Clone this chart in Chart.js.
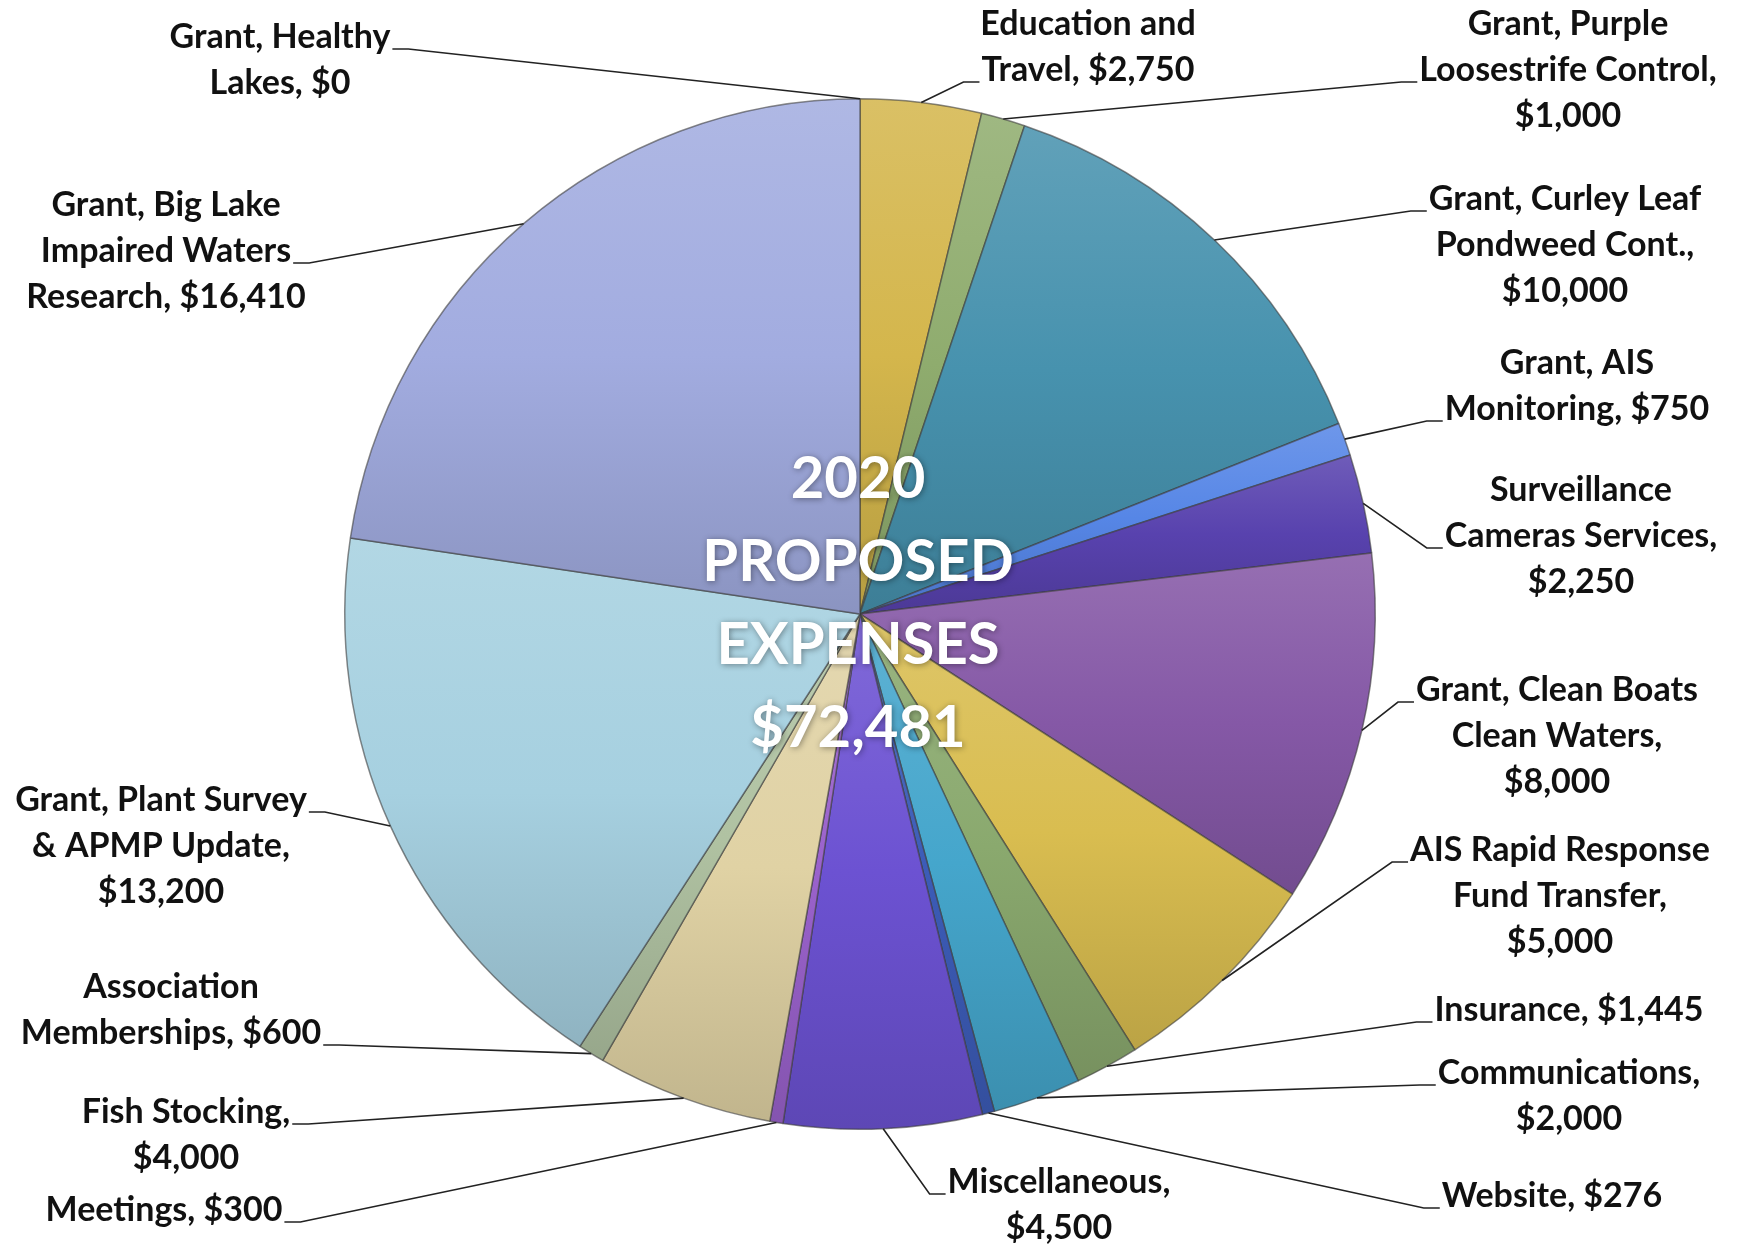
<!DOCTYPE html>
<html>
<head>
<meta charset="utf-8">
<script src="https://cdn.jsdelivr.net/npm/chart.js@4.4.1/dist/chart.umd.min.js"></script>
<style>
  html, body { margin: 0; background: #fff; }
  canvas { display: block; }
</style>
</head>
<body>
<canvas id="chart" width="1740" height="1244"></canvas>
<script>
// data, clockwise from 12 o'clock
var categories = [
  'Grant, Healthy Lakes', 'Education and Travel', 'Grant, Purple Loosestrife Control',
  'Grant, Curley Leaf Pondweed Cont.', 'Grant, AIS Monitoring', 'Surveillance Cameras Services',
  'Grant, Clean Boats Clean Waters', 'AIS Rapid Response Fund Transfer', 'Insurance',
  'Communications', 'Website', 'Miscellaneous', 'Meetings', 'Fish Stocking',
  'Association Memberships', 'Grant, Plant Survey & APMP Update', 'Grant, Big Lake Impaired Waters Research'
];
var amounts = [0, 2750, 1000, 10000, 750, 2250, 8000, 5000, 1445, 2000, 276, 4500, 300, 4000, 600, 13200, 16410];
var labelLines = [
  ['Grant, Healthy', 'Lakes, $0'],
  ['Education and', 'Travel, $2,750'],
  ['Grant, Purple', 'Loosestrife Control,', '$1,000'],
  ['Grant, Curley Leaf', 'Pondweed Cont.,', '$10,000'],
  ['Grant, AIS', 'Monitoring, $750'],
  ['Surveillance', 'Cameras Services,', '$2,250'],
  ['Grant, Clean Boats', 'Clean Waters,', '$8,000'],
  ['AIS Rapid Response', 'Fund Transfer,', '$5,000'],
  ['Insurance, $1,445'],
  ['Communications,', '$2,000'],
  ['Website, $276'],
  ['Miscellaneous,', '$4,500'],
  ['Meetings, $300'],
  ['Fish Stocking,', '$4,000'],
  ['Association', 'Memberships, $600'],
  ['Grant, Plant Survey', '& APMP Update,', '$13,200'],
  ['Grant, Big Lake', 'Impaired Waters', 'Research, $16,410']
];
var centerTitle = ['2020', 'PROPOSED', 'EXPENSES', '$72,481'];

// styling
var sliceColors = [
  '#9bbb59', '#d4b64c', '#8fac6e', '#4792ae', '#5686e6', '#5842ae',
  '#8558a6', '#d9bd50', '#8aa96e', '#45a6cc', '#3c5cb8', '#6c52d2',
  '#9a62cc', '#e0d2a4', '#b0c2a2', '#a6d0e0', '#a2ace0'
];
// label boxes: x = centre of text, y = first line, side/line = where the leader joins
var labelLayout = [
  {x: 280, y: 37, side: 'right', line: 0},
  {x: 1088, y: 24, side: 'left', line: 1},
  {x: 1568, y: 24, side: 'left', line: 1},
  {x: 1565, y: 199, side: 'left', line: 0},
  {x: 1577, y: 363, side: 'left', line: 1},
  {x: 1581, y: 490, side: 'left', line: 1},
  {x: 1557, y: 690, side: 'left', line: 0},
  {x: 1560, y: 850, side: 'left', line: 0},
  {x: 1569, y: 1010, side: 'left', line: 0},
  {x: 1569, y: 1073, side: 'left', line: 0},
  {x: 1552, y: 1196, side: 'left', line: 0},
  {x: 1059, y: 1182, side: 'left', line: 0},
  {x: 164, y: 1210, side: 'right', line: 0},
  {x: 186, y: 1112, side: 'right', line: 0},
  {x: 171, y: 987, side: 'right', line: 1},
  {x: 161, y: 800, side: 'right', line: 0},
  {x: 166, y: 205, side: 'right', line: 1}
];
var lineGap = 46;
var labelFont = '700 34px Lato, "Open Sans", sans-serif';
var titleFont = '700 58px Lato, "Open Sans", sans-serif';

function shade(hex, amt) {
  var n = parseInt(hex.slice(1), 16);
  var r = n >> 16, g = (n >> 8) & 255, b = n & 255;
  var t = amt > 0 ? 255 : 0, a = Math.abs(amt);
  r = Math.round(r + (t - r) * a); g = Math.round(g + (t - g) * a); b = Math.round(b + (t - b) * a);
  return 'rgb(' + r + ',' + g + ',' + b + ')';
}

// vertical gradient over each slice's own height
function sliceFill(ctx) {
  var base = sliceColors[ctx.dataIndex];
  var area = ctx.chart.chartArea;
  if (!area) return base;
  var total = amounts.reduce(function (a, b) { return a + b; }, 0);
  var before = 0;
  for (var i = 0; i < ctx.dataIndex; i++) before += amounts[i];
  var a0 = before / total * 2 * Math.PI - Math.PI / 2;
  var a1 = (before + amounts[ctx.dataIndex]) / total * 2 * Math.PI - Math.PI / 2;
  var cy = (area.top + area.bottom) / 2;
  var r = Math.min(area.width, area.height) / 2;
  var ys = [cy, cy + Math.sin(a0) * r, cy + Math.sin(a1) * r];
  if (a0 < Math.PI / 2 && a1 > Math.PI / 2) ys.push(cy + r);
  if (a1 > 1.5 * Math.PI) ys.push(cy - r);
  var y0 = Math.min.apply(null, ys), y1 = Math.max.apply(null, ys);
  if (y1 - y0 < 2) return base;
  var g = ctx.chart.ctx.createLinearGradient(0, y0, 0, y1);
  g.addColorStop(0, shade(base, 0.14));
  g.addColorStop(0.5, base);
  g.addColorStop(1, shade(base, -0.14));
  return g;
}

var calloutPlugin = {
  id: 'callouts',
  afterDatasetsDraw: function (chart) {
    var c = chart.ctx;
    var arcs = chart.getDatasetMeta(0).data;
    c.save();
    c.font = labelFont;
    c.textAlign = 'center';
    c.textBaseline = 'middle';
    c.strokeStyle = '#222';
    c.lineWidth = 1.6;
    c.fillStyle = '#111';
    arcs.forEach(function (arc, i) {
      var p = arc.getProps(['x', 'y', 'startAngle', 'endAngle', 'outerRadius']);
      var mid = (p.startAngle + p.endAngle) / 2;
      var ax = p.x + Math.cos(mid) * p.outerRadius;
      var ay = p.y + Math.sin(mid) * p.outerRadius;
      var L = labelLayout[i];
      var lines = labelLines[i];
      var w = c.measureText(lines[L.line]).width;
      var edge = L.side === 'left' ? L.x - w / 2 - 2 : L.x + w / 2 + 2;
      var elbow = L.side === 'left' ? edge - 16 : edge + 16;
      var sy = L.y + L.line * lineGap + 12;
      c.beginPath();
      c.moveTo(ax, ay);
      c.lineTo(elbow, sy);
      c.lineTo(edge, sy);
      c.stroke();
      lines.forEach(function (t, k) {
        c.fillText(t, L.x, L.y + k * lineGap);
      });
    });

    // centre title
    var cx = arcs[0].x, cy = arcs[0].y;
    c.font = titleFont;
    c.fillStyle = '#ffffff';
    c.shadowColor = 'rgba(0,0,0,0.4)';
    c.shadowBlur = 6;
    c.shadowOffsetX = 1;
    c.shadowOffsetY = 1;
    centerTitle.forEach(function (t, k) {
      c.fillText(t, cx - 2, cy - 135 + k * 83);
    });
    c.restore();
  }
};

var ctx = document.getElementById('chart').getContext('2d');
var chart = new Chart(ctx, {
  type: 'pie',
  data: {
    labels: categories,
    datasets: [{
      data: amounts,
      backgroundColor: sliceFill,
      borderColor: 'rgba(60,60,60,0.6)',
      borderWidth: 1.5
    }]
  },
  options: {
    responsive: false,
    animation: false,
    layout: { padding: { left: 344, right: 364, top: 98, bottom: 114 } },
    plugins: {
      legend: { display: false },
      tooltip: { enabled: false }
    }
  },
  plugins: [calloutPlugin]
});
</script>
</body>
</html>
